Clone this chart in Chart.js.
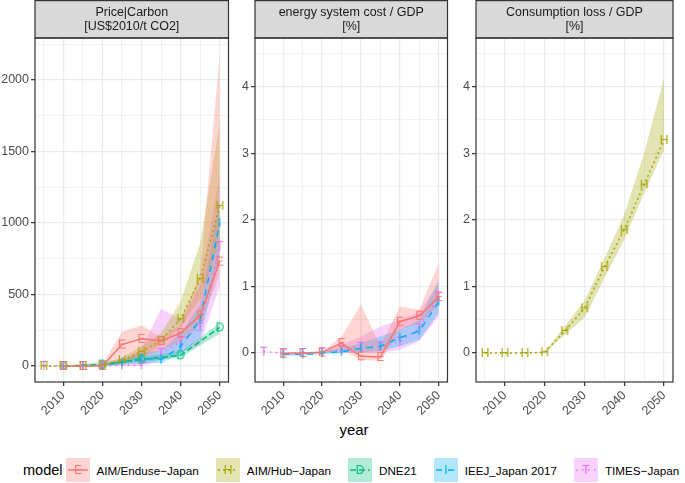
<!DOCTYPE html>
<html>
<head>
<meta charset="utf-8">
<script src="https://cdn.jsdelivr.net/npm/chart.js@4.4.0/dist/chart.umd.min.js"></script>
<style>
  body { margin: 0; background: #fff; font-family: "Liberation Sans", Arial, sans-serif; }
  #wrap { position: relative; width: 685px; height: 483px; overflow: hidden; }
  #wrap canvas.panel { position: absolute; top: 0; }
  #c1 { left: 0; }
  #c2 { left: 236px; }
  #c3 { left: 455px; }
  #xtitle { position: absolute; left: 254px; width: 200px; top: 421px; text-align: center; font-size: 15px; color: #000; }
  #legend { position: absolute; left: 23px; top: 458px; height: 24px; display: flex; align-items: center; white-space: nowrap; }
  #legend .title { font-size: 14.5px; color: #000; margin-right: 3px; }
  #legend .key { width: 24px; height: 24px; display: block; }
  #legend .lab { font-size: 11.7px; color: #000; margin-left: 7px; margin-right: 17px; }
</style>
</head>
<body>
<div id="wrap">
  <canvas id="c1" class="panel" width="236" height="420"></canvas>
  <canvas id="c2" class="panel" width="219" height="420"></canvas>
  <canvas id="c3" class="panel" width="230" height="420"></canvas>
  <div id="xtitle">year</div>
  <div id="legend"></div>
</div>
<script>
// Data
const years = [2005, 2010, 2015, 2020, 2025, 2030, 2035, 2040, 2045, 2050];
const yearLabels = [2010, 2020, 2030, 2040, 2050];

const modelNames = ['AIM/Enduse\u2212Japan', 'AIM/Hub\u2212Japan', 'DNE21', 'IEEJ_Japan 2017', 'TIMES\u2212Japan'];
const modelLetters = ['E', 'H', 'D', 'I', 'T'];

// Price|Carbon [US$2010/t CO2]
const priceEnduse   = [null, 0, 0, 0, 150, 190, 175, 230, 355, 730];
const priceEnduseLo = [null, 0, 0, 0, 40, 60, 110, 170, 290, 640];
const priceEnduseHi = [null, 0, 0, 10, 240, 285, 200, 290, 650, 2180];
const priceHub      = [0, 0, 0, 5, 40, 100, 178, 330, 610, 1120];
const priceHubLo    = [0, 0, 0, 0, 20, 60, 150, 270, 470, 880];
const priceHubHi    = [0, 0, 0, 10, 60, 140, 230, 450, 860, 1700];
const priceDne      = [null, 0, null, 10, null, 45, null, 75, null, 270];
const priceDneLo    = [null, 0, null, 0, null, 30, null, 60, null, 225];
const priceDneHi    = [null, 0, null, 30, null, 65, null, 100, null, 300];
const priceIeej     = [null, 0, 0, 5, 25, 55, 45, 135, 325, 1000];
const priceIeejLo   = [null, 0, 0, 0, 10, 20, 20, 80, 200, 750];
const priceIeejHi   = [null, 0, 0, 10, 45, 90, 110, 230, 430, 1150];
const priceTimes    = [0, 0, 0, 0, 5, 5, 90, 170, 270, 840];
const priceTimesLo  = [0, 0, 0, 0, 0, 0, 40, 90, 150, 560];
const priceTimesHi  = [0, 0, 0, 0, 30, 120, 400, 330, 560, 1350];

// energy system cost / GDP [%]
const costEnduse    = [null, -0.01, 0, 0.01, 0.15, -0.05, -0.06, 0.47, 0.56, 0.84];
const costEnduseLo  = [null, -0.02, -0.01, 0, 0.05, -0.1, -0.12, 0.35, 0.45, 0.72];
const costEnduseHi  = [null, 0, 0.01, 0.02, 0.25, 0.73, 0.1, 0.7, 0.65, 1.35];
const costIeej      = [null, -0.02, -0.02, 0, 0.02, 0.07, 0.1, 0.23, 0.33, 0.77];
const costIeejLo    = [null, -0.04, -0.04, -0.02, 0, 0.01, 0.03, 0.1, 0.2, 0.6];
const costIeejHi    = [null, 0.02, 0.01, 0.02, 0.07, 0.15, 0.25, 0.35, 0.5, 1.1];
const costTimes     = [0.02, 0, 0, 0.01, 0.05, 0.09, 0.1, 0.17, 0.37, 0.85];
const costTimesLo   = [0.02, 0, 0, 0, 0, 0, 0, 0.05, 0.18, 0.55];
const costTimesHi   = [0.02, 0, 0, 0.02, 0.12, 0.25, 0.4, 0.5, 0.62, 1.05];

// Consumption loss / GDP [%]
const lossHub       = [0, 0, 0, 0.01, 0.33, 0.67, 1.29, 1.85, 2.53, 3.2];
const lossHubLo     = [0, 0, 0, 0, 0.27, 0.53, 1.12, 1.7, 2.4, 3.05];
const lossHubHi     = [0, 0, 0, 0.02, 0.4, 0.78, 1.42, 2.08, 3.0, 4.13];

// Axis ticks
const priceMajor = [0, 500, 1000, 1500, 2000];
const priceMinor = [250, 750, 1250, 1750, 2250];
const pctMajor = [0, 1, 2, 3, 4];
const pctMinor = [0.5, 1.5, 2.5, 3.5, 4.5];

// Styles
const modelColors = ['#F8766D', '#A3A500', '#00BF7D', '#00B0F6', '#E76BF3'];
const modelFills = ['rgba(248,118,109,0.3)', 'rgba(163,165,0,0.3)', 'rgba(0,191,125,0.3)', 'rgba(0,176,246,0.3)', 'rgba(231,107,243,0.3)'];
const modelDashes = [[], [2, 3], [6, 3], [6, 6], [1.5, 4.5]];
const FONT = '"Liberation Sans", Arial, sans-serif';

// letter glyphs used as point shapes
function makeGlyph(letter, color) {
  const c = document.createElement('canvas');
  c.width = 14; c.height = 14;
  const g = c.getContext('2d');
  g.fillStyle = color;
  g.font = '12px ' + FONT;
  g.textAlign = 'center';
  g.textBaseline = 'middle';
  g.fillText(letter, 7, 7.5);
  return c;
}
const glyphs = modelLetters.map((l, i) => makeGlyph(l, modelColors[i]));

function pts(arr) {
  const out = [];
  arr.forEach((v, i) => { if (v !== null) out.push({ x: years[i], y: v }); });
  return out;
}

// strip on top + panel border
const facetPlugin = {
  id: 'facet',
  afterDraw(chart, args, opts) {
    const ctx = chart.ctx;
    const a = chart.chartArea;
    ctx.save();
    ctx.fillStyle = '#D9D9D9';
    ctx.fillRect(a.left, 0.5, a.right - a.left, a.top - 0.5);
    ctx.strokeStyle = '#333333';
    ctx.lineWidth = 1.2;
    ctx.strokeRect(a.left, 0.6, a.right - a.left, a.top - 0.6);
    ctx.strokeRect(a.left, a.top, a.right - a.left, a.bottom - a.top);
    ctx.fillStyle = '#1A1A1A';
    ctx.font = '12.5px ' + FONT;
    ctx.textAlign = 'center';
    ctx.textBaseline = 'middle';
    const cx = (a.left + a.right) / 2;
    opts.lines.forEach((t, i) => ctx.fillText(t, cx, 13 + i * 14));
    ctx.restore();
  }
};

function makeChart(id, spec) {
  const datasets = [];
  spec.series.forEach(s => {
    datasets.push({ data: pts(s.lo), borderWidth: 0, pointRadius: 0, fill: false, order: 2 });
    datasets.push({ data: pts(s.hi), borderWidth: 0, pointRadius: 0, fill: '-1', backgroundColor: modelFills[s.model], order: 2 });
  });
  spec.series.forEach(s => {
    datasets.push({
      data: pts(s.mid),
      borderColor: modelColors[s.model],
      borderDash: modelDashes[s.model],
      borderWidth: 1.5,
      pointStyle: glyphs[s.model],
      pointRadius: 6,
      fill: false,
      order: 1
    });
  });
  const isMajorY = v => spec.major.includes(v);
  return new Chart(document.getElementById(id), {
    type: 'line',
    data: { datasets },
    plugins: [facetPlugin],
    options: {
      responsive: false,
      animation: false,
      events: [],
      layout: { padding: { top: 38, right: spec.padRight, left: 0, bottom: 0 } },
      plugins: {
        legend: { display: false },
        tooltip: { enabled: false },
        filler: { drawTime: 'beforeDatasetsDraw' },
        facet: { lines: spec.strip }
      },
      scales: {
        x: {
          type: 'linear',
          min: 2002.75,
          max: 2052.25,
          afterBuildTicks: sc => { sc.ticks = years.map(v => ({ value: v })); },
          afterFit: sc => { sc.height = 38; sc.paddingLeft = 0; sc.paddingRight = 0; },
          ticks: {
            autoSkip: false,
            minRotation: 45,
            maxRotation: 45,
            padding: 2,
            color: '#4D4D4D',
            font: { family: FONT, size: 12.5 },
            callback: v => yearLabels.includes(v) ? String(v) : ''
          },
          grid: {
            color: '#EBEBEB',
            lineWidth: c => c.tick && yearLabels.includes(c.tick.value) ? 1.3 : 0.7,
            tickLength: 4,
            tickWidth: 1.2,
            tickColor: c => c.tick && yearLabels.includes(c.tick.value) ? '#333333' : 'rgba(0,0,0,0)'
          },
          border: { display: false }
        },
        y: {
          min: spec.yMin,
          max: spec.yMax,
          afterBuildTicks: sc => { sc.ticks = spec.major.concat(spec.minor).sort((p, q) => p - q).map(v => ({ value: v })); },
          afterFit: sc => { sc.width = spec.axisW; },
          ticks: {
            padding: 2,
            color: '#4D4D4D',
            font: { family: FONT, size: 12.5 },
            callback: v => isMajorY(v) ? String(v) : ''
          },
          grid: {
            color: '#EBEBEB',
            lineWidth: c => c.tick && isMajorY(c.tick.value) ? 1.3 : 0.7,
            tickLength: 4,
            tickWidth: 1.2,
            tickColor: c => c.tick && isMajorY(c.tick.value) ? '#333333' : 'rgba(0,0,0,0)'
          },
          border: { display: false }
        }
      }
    }
  });
}

makeChart('c1', {
  strip: ['Price|Carbon', '[US$2010/t CO2]'],
  yMin: -112, yMax: 2294, major: priceMajor, minor: priceMinor, axisW: 35, padRight: 3,
  series: [
    { model: 0, mid: priceEnduse, lo: priceEnduseLo, hi: priceEnduseHi },
    { model: 1, mid: priceHub, lo: priceHubLo, hi: priceHubHi },
    { model: 2, mid: priceDne, lo: priceDneLo, hi: priceDneHi },
    { model: 3, mid: priceIeej, lo: priceIeejLo, hi: priceIeejHi },
    { model: 4, mid: priceTimes, lo: priceTimesLo, hi: priceTimesHi }
  ]
});

makeChart('c2', {
  strip: ['energy system cost / GDP', '[%]'],
  yMin: -0.435, yMax: 4.73, major: pctMajor, minor: pctMinor, axisW: 19, padRight: 2,
  series: [
    { model: 0, mid: costEnduse, lo: costEnduseLo, hi: costEnduseHi },
    { model: 3, mid: costIeej, lo: costIeejLo, hi: costIeejHi },
    { model: 4, mid: costTimes, lo: costTimesLo, hi: costTimesHi }
  ]
});

makeChart('c3', {
  strip: ['Consumption loss / GDP', '[%]'],
  yMin: -0.435, yMax: 4.73, major: pctMajor, minor: pctMinor, axisW: 21, padRight: 12,
  series: [
    { model: 1, mid: lossHub, lo: lossHubLo, hi: lossHubHi }
  ]
});

// Legend
const legend = document.getElementById('legend');
const lt = document.createElement('span');
lt.className = 'title';
lt.textContent = 'model';
legend.appendChild(lt);
modelNames.forEach((name, i) => {
  const key = document.createElement('canvas');
  key.className = 'key';
  key.width = 24; key.height = 24;
  const g = key.getContext('2d');
  g.fillStyle = modelFills[i];
  g.fillRect(0, 0, 24, 24);
  g.strokeStyle = modelColors[i];
  g.lineWidth = 1.5;
  g.setLineDash(modelDashes[i]);
  g.beginPath(); g.moveTo(2, 12); g.lineTo(22, 12); g.stroke();
  g.drawImage(glyphs[i], 5, 5);
  legend.appendChild(key);
  const lab = document.createElement('span');
  lab.className = 'lab';
  lab.textContent = name;
  legend.appendChild(lab);
});
</script>
</body>
</html>
